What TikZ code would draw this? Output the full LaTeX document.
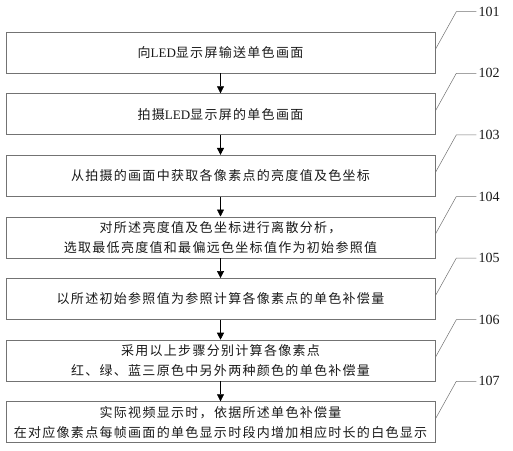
\documentclass[tikz,border=0pt]{standalone}
\usepackage{fontspec}
\setmainfont{Liberation Serif}
\newfontfamily\cjk[LetterSpace=10]{Noto Sans CJK SC}
\usepackage{tikz}
\usetikzlibrary{arrows.meta,positioning}

\tikzset{
  stepbox/.style={draw=black!55, line width=0.6pt, minimum width=429pt, minimum height=41pt,
    inner sep=2pt, align=center, font=\fontsize{13}{20}\selectfont\cjk, text=black!90},
  flow/.style={-{Triangle[width=7pt,length=7pt]}, line width=0.6pt},
  num/.style={anchor=west, inner sep=2pt, font=\fontsize{14}{16}\selectfont, text=black!90},
  leader/.style={draw=black!55, line width=0.5pt}
}

\begin{document}
\begin{tikzpicture}[node distance=20pt]
  \useasboundingbox (0,0) rectangle (513pt,-450pt);
  % steps
  \node[stepbox] (b1) at (220.5pt,-52.5pt) {向{\normalfont LED}显示屏输送单色画面};
  \node[stepbox, below=of b1] (b2) {拍摄{\normalfont LED}显示屏的单色画面};
  \node[stepbox, below=of b2] (b3) {从拍摄的画面中获取各像素点的亮度值及色坐标};
  \node[stepbox, below=of b3] (b4) {对所述亮度值及色坐标进行离散分析，\\选取最低亮度值和最偏远色坐标值作为初始参照值};
  \node[stepbox, below=of b4] (b5) {以所述初始参照值为参照计算各像素点的单色补偿量};
  \node[stepbox, below=of b5] (b6) {采用以上步骤分别计算各像素点\\红、绿、蓝三原色中另外两种颜色的单色补偿量};
  \node[stepbox, below=of b6] (b7) {实际视频显示时，依据所述单色补偿量\\在对应像素点每帧画面的单色显示时段内增加相应时长的白色显示};
  % arrows
  \draw[flow] (b1) -- (b2);
  \draw[flow] (b2) -- (b3);
  \draw[flow] (b3) -- (b4);
  \draw[flow] (b4) -- (b5);
  \draw[flow] (b5) -- (b6);
  \draw[flow] (b6) -- (b7);
  % reference numerals
  \node[num] (n1) at ([xshift=41pt,yshift=20pt]b1.north east) {101};
  \node[num] (n2) at ([xshift=41pt,yshift=20pt]b2.north east) {102};
  \node[num] (n3) at ([xshift=41pt,yshift=20pt]b3.north east) {103};
  \node[num] (n4) at ([xshift=41pt,yshift=20pt]b4.north east) {104};
  \node[num] (n5) at ([xshift=41pt,yshift=20pt]b5.north east) {105};
  \node[num] (n6) at ([xshift=41pt,yshift=20pt]b6.north east) {106};
  \node[num] (n7) at ([xshift=41pt,yshift=20pt]b7.north east) {107};
  \draw[leader] ([yshift=3pt]b1.east) -- ([xshift=-20pt]n1.west) -- (n1.west);
  \draw[leader] ([yshift=3pt]b2.east) -- ([xshift=-20pt]n2.west) -- (n2.west);
  \draw[leader] ([yshift=3pt]b3.east) -- ([xshift=-20pt]n3.west) -- (n3.west);
  \draw[leader] ([yshift=3pt]b4.east) -- ([xshift=-20pt]n4.west) -- (n4.west);
  \draw[leader] ([yshift=3pt]b5.east) -- ([xshift=-20pt]n5.west) -- (n5.west);
  \draw[leader] ([yshift=3pt]b6.east) -- ([xshift=-20pt]n6.west) -- (n6.west);
  \draw[leader] ([yshift=3pt]b7.east) -- ([xshift=-20pt]n7.west) -- (n7.west);
\end{tikzpicture}
\end{document}
